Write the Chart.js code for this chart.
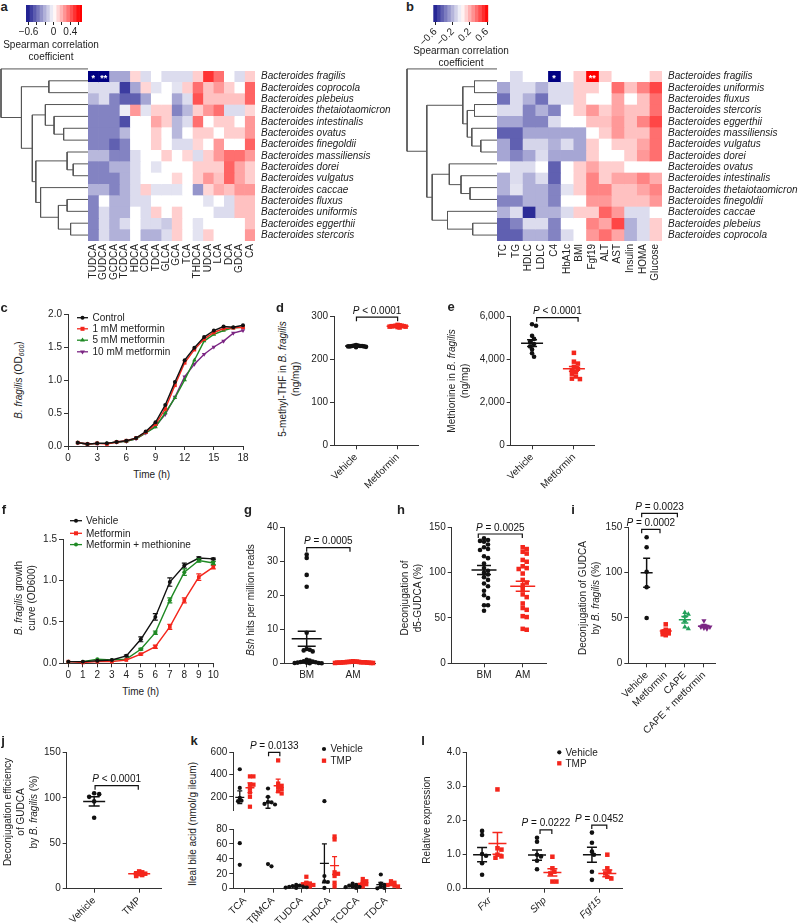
<!DOCTYPE html>
<html><head><meta charset="utf-8">
<script src="https://cdn.jsdelivr.net/npm/chart.js@4/dist/chart.umd.min.js"></script>
<style>
body{margin:0;background:#fff;}
#fig{position:relative;width:800px;height:924px;overflow:hidden;font-family:"Liberation Sans",Arial,sans-serif;color:#222;background:#fff;}
.box{position:absolute;}
.plab{position:absolute;font-weight:bold;font-size:13px;transform:translate(-50%,-50%);}
.yt{position:absolute;font-size:10px;line-height:13px;text-align:center;white-space:nowrap;transform:translate(-50%,-50%) rotate(-90deg);}
.ct{position:absolute;font-size:10px;line-height:12px;text-align:center;white-space:nowrap;transform:translate(-50%,-50%);}
sub{font-size:7px;vertical-align:-2px;}
</style></head>
<body><div id="fig"></div>
<script>
// ================= DATA =================
// ---- a: bile acids heatmap ----
const aRows=['Bacteroides fragilis','Bacteroides coprocola','Bacteroides plebeius','Bacteroides thetaiotaomicron','Bacteroides intestinalis','Bacteroides ovatus','Bacteroides finegoldii','Bacteroides massiliensis','Bacteroides dorei','Bacteroides vulgatus','Bacteroides caccae','Bacteroides fluxus','Bacteroides uniformis','Bacteroides eggerthii','Bacteroides stercoris'];
const aCols=['TUDCA','GUDCA','GCDCA','TCDCA','HDCA','CDCA','TDCA','GLCA','GCA','TCA','THDCA','UDCA','LCA','DCA','GDCA','CA'];
const aVals=[
[-0.75,-0.75,-0.25,-0.25,0.1,-0.1,0,-0.1,-0.1,-0.1,0.12,0.5,0.35,0,-0.1,0.12],
[-0.1,-0.1,-0.1,-0.55,-0.25,0.1,-0.08,0,-0.08,0.12,0.35,0.15,0.25,0.12,0,0.38],
[-0.2,-0.1,-0.35,-0.45,-0.45,-0.25,0,0,-0.25,-0.1,0.42,0.15,0.15,0.15,0.15,0.38],
[-0.35,-0.35,-0.35,-0.05,0.25,-0.08,0.12,0.12,-0.35,-0.2,0.12,0.25,0.35,-0.1,-0.1,0.1],
[-0.35,-0.35,-0.35,-0.5,0,0,0.22,0.12,-0.2,-0.1,0.35,0,0.12,0.12,0,0.25],
[-0.35,-0.35,-0.35,-0.2,0,0,0.12,0,-0.2,0,0.12,0.12,0,0.12,0.12,0.25],
[-0.35,-0.35,-0.45,-0.35,0,0,0.12,0,-0.1,-0.1,0.1,0,0.25,0,0,0.38],
[-0.2,-0.2,-0.35,-0.35,-0.1,0,0,0.12,0,0.1,-0.1,0.12,0.25,0.35,0.35,0.25],
[-0.35,-0.35,-0.22,-0.22,-0.1,0,-0.08,0,0,0,0.12,0.12,0.12,0.38,0.22,0.12],
[-0.35,-0.35,-0.35,-0.22,-0.1,0,0,0,0.1,0,0.12,0.25,0.15,0.38,0.22,0.12],
[-0.22,-0.22,-0.35,-0.22,-0.1,0.12,-0.08,-0.08,-0.08,0,-0.3,0.1,0.2,0.15,0.25,0.25],
[-0.35,0,-0.22,-0.22,-0.1,-0.1,0,0,0,0,0,-0.08,0,-0.1,0.15,0.15],
[-0.35,-0.1,-0.22,-0.22,0,-0.1,0.12,0,0.12,0,0,0,-0.1,-0.1,0.15,0.15],
[-0.35,-0.1,-0.22,-0.1,0,-0.1,-0.1,-0.15,0.12,0,-0.08,0,0,0,0,0.15],
[-0.35,-0.1,-0.22,-0.22,0,-0.22,-0.22,-0.1,0.12,0,-0.08,0.12,0,0,0,0.25]];
const aStars=[{r:0,c:0,t:'*'},{r:0,c:1,t:'**'}];
// dendrogram: [mergeHeight, left, right]; leaves = row index
const aTree=[1,0,[0.765,[0.45,1,2],[0.64,[0.49,3,[0.39,4,[0.28,5,6]]],[0.6,[0.24,7,[0.17,8,9]],[0.545,10,[0.34,[0.24,11,12],[0.2,13,14]]]]]]];
const aBarEdges=[-0.66,-0.58,-0.5,-0.42,-0.34,-0.26,-0.18,-0.1,-0.02,0.06,0.14,0.22,0.3,0.38,0.46,0.54,0.62,0.68];
const aBarTicks=[-0.6,-0.4,-0.2,0,0.2,0.4,0.6];
const aBarLabels=[-0.6,0,0.4];
// ---- b: clinical heatmap ----
const bRows=['Bacteroides fragilis','Bacteroides uniformis','Bacteroides fluxus','Bacteroides stercoris','Bacteroides eggerthii','Bacteroides massiliensis','Bacteroides vulgatus','Bacteroides dorei','Bacteroides ovatus','Bacteroides intestinalis','Bacteroides thetaiotaomicron','Bacteroides finegoldii','Bacteroides caccae','Bacteroides plebeius','Bacteroides coprocola'];
const bCols=['TC','TG','HDLC','LDLC','C4','HbA1c','BMI','Fgf19','ALT','AST','Insulin','HOMA','Glucose'];
const bVals=[
[0,-0.1,0,0,-0.75,0,0.12,0.65,0.12,0,0,0,0.12],
[-0.25,-0.1,-0.1,-0.22,-0.1,-0.1,0.12,0.12,0,0.35,0.15,0.3,0.45],
[-0.4,-0.1,-0.22,-0.4,-0.1,-0.1,0.12,0,0,0.22,0,0.15,0.35],
[-0.1,-0.1,-0.35,-0.22,-0.35,0,0.12,0.25,0.12,0.22,0.15,0.15,0.35],
[-0.25,-0.25,-0.35,-0.35,-0.1,0,0,0.15,0.15,0.25,0.15,0.3,0.45],
[-0.45,-0.45,-0.25,-0.25,-0.25,-0.25,-0.25,0,0.12,0.25,0.15,0.15,0.35],
[-0.25,-0.45,-0.12,-0.12,-0.22,-0.1,-0.25,0.12,0,0.12,0.12,0.22,0.35],
[-0.25,-0.35,-0.25,-0.1,-0.25,-0.25,-0.25,0.12,0,0,0.12,0.25,0.35],
[0,-0.1,-0.1,0,-0.45,0,0.12,0.22,0.12,0.12,0,0,0],
[-0.22,-0.1,-0.22,-0.1,-0.45,0,0.12,0.3,0.12,0.22,0.22,0.3,0.2],
[-0.22,-0.08,-0.22,-0.22,-0.35,-0.08,0.12,0.3,0.3,0.15,0.15,0.22,0.3],
[-0.35,-0.35,-0.22,-0.22,-0.35,0,0,0.25,0.25,0.15,0.15,0.15,0.25],
[-0.22,-0.1,-0.6,-0.22,-0.22,-0.1,0.12,0.12,0.38,0.25,-0.1,-0.1,0],
[-0.45,-0.35,-0.1,-0.1,-0.35,0,0,0.3,0.22,0.45,-0.22,-0.1,0.12],
[-0.45,-0.45,-0.22,-0.22,-0.35,-0.1,0,0.25,0.35,0.22,-0.22,-0.1,0.12]];
const bStars=[{r:0,c:4,t:'*'},{r:0,c:7,t:'**'}];
const bTree=[1,0,[0.78,[0.38,[0.25,1,2],[0.33,[0.25,3,4],[0.28,5,[0.18,6,7]]]],[0.72,[0.53,8,[0.4,9,[0.3,10,11]]],[0.55,12,[0.27,13,14]]]]];
const bBarEdges=[-0.65,-0.57,-0.49,-0.41,-0.33,-0.25,-0.17,-0.09,-0.01,0.07,0.15,0.23,0.31,0.39,0.47,0.55,0.63];
const bBarTicks=[-0.6,-0.2,0.2,0.6];
// ---- c: growth with metformin ----
const cTime=[1,2,3,4,5,6,7,8,9,10,11,12,13,14,15,16,17,18];
const cControl=[0.05,0.03,0.04,0.04,0.06,0.08,0.12,0.22,0.36,0.62,0.97,1.30,1.49,1.65,1.75,1.81,1.80,1.83];
const cMet1=[0.05,0.03,0.04,0.03,0.06,0.08,0.12,0.21,0.33,0.56,0.92,1.26,1.46,1.62,1.72,1.78,1.79,1.80];
const cMet5=[0.05,0.03,0.04,0.04,0.06,0.07,0.11,0.20,0.29,0.50,0.73,1.00,1.30,1.59,1.69,1.75,1.79,1.80];
const cMet10=[0.05,0.03,0.04,0.04,0.06,0.07,0.11,0.20,0.30,0.48,0.74,1.05,1.24,1.39,1.50,1.59,1.71,1.75];
const cXTicks=[0,3,6,9,12,15,18], cYTicks=[0,0.5,1,1.5,2];
// ---- d, e ----
const deCats=['Vehicle','Metformin'];
const dVehicle=[232,230,231,229,233,231,230,232,228,231,230];
const dMetformin=[278,276,277,279,275,277,276,278,274,277,280];
const dMean=[231,277], dSem=[1,1];
const eVehicle=[5630,5560,5090,4950,4815,4710,4600,4460,4280,4120];
const eMetformin=[4300,3890,3800,3650,3560,3500,3420,3330,3200,3100,3080];
const eMean=[4750,3560], eSem=[160,110];
// ---- f ----
const fTime=[0,1,2,3,4,5,6,7,8,9,10];
const fVehicle=[0.02,0.02,0.03,0.04,0.09,0.29,0.56,0.98,1.18,1.27,1.26];
const fVehicleErr=[0,0,0,0,0.01,0.03,0.04,0.05,0.03,0.015,0.01];
const fMetformin=[0.02,0.01,0.02,0.02,0.04,0.11,0.20,0.44,0.76,1.04,1.16];
const fMetforminErr=[0,0,0,0,0,0.01,0.02,0.03,0.03,0.04,0.02];
const fMetMet=[0.02,0.02,0.05,0.04,0.05,0.17,0.37,0.76,1.10,1.24,1.21];
const fMetMetErr=[0,0,0,0,0,0.01,0.02,0.03,0.04,0.02,0.02];
const fXTicks=[0,1,2,3,4,5,6,7,8,9,10], fYTicks=[0,0.5,1,1.5];
// ---- g, h ----
const ghCats=['BM','AM'];
const gBM=[32,31,26,22.5,9,4.2,4,3.8,3.5,1,0.8,0.6,0.5,0.4,0.3,0.2,0.2,0.1,0.1,0,0];
const gAM=[0.6,0.5,0.5,0.4,0.4,0.3,0.3,0.3,0.2,0.2,0.2,0.1,0.1,0.1,0.3,0.4,0.2,0.5,0.3,0.2];
const gMean=[7.2,0.3], gSem=[2.2,0.05];
const hBM=[138,136,135,134,131,128,126,125,118,116,110,105,102,100,98,95,92,88,85,80,75,72,64,64,58];
const hAM=[128,126,123,121,114,112,107,105,104,99,92,89,86,82,76,73,66,61,59,52,51,38,37];
const hMean=[103,85], hSem=[5,5.5];
// ---- i ----
const iCats=['Vehicle','Metformin','CAPE','CAPE + metformin'];
const iVehicle=[139,128,101,84,50];
const iMetformin=[43,37,36,35,34,33,32,31];
const iCAPE=[56,54,52,47,40,38];
const iCAPEMet=[47,42,41,40,40,39,38];
const iMean=[100,35.5,48,41], iSem=[16,1.5,3.5,1.3];
const hijTicks=[0,50,100,150];
// ---- j ----
const jCats=['Vehicle','TMP'];
const jVehicle=[105,104,101,96,78];
const jTMP=[19,18,17,16.5,16,15,14];
const jMean=[96,16.5], jSem=[5,0.8];
// ---- k ----
const kCats=['TCA','TβMCA','TUDCA','THDCA','TCDCA','TDCA'];
const kVehicle=[[450,280,190,165,160,61,32],[275,200,155,150,135,130,33,30],[5,4,3.5,3,2.5,2,1.5,1],[160,17,10,9,1],[7,5,4,3,2.5,2,1],[19,7,5,3,1,0.5]];
const kTMP=[[385,385,310,310,275,240,200,110],[530,320,300,290,270,250,230],[16,8,7,6,5,4,3],[70,66,22,20,17,8,3],[13,10,8,6,5,3],[10,8,6,5,4,3]];
const kVehMean=[195,146,3,34,3.5,5.5], kVehSem=[58,50,0.6,26,0.8,2.8];
const kTmpMean=[282,300,7,31,7,5.5], kTmpSem=[45,60,1.7,12,1.5,1];
const kBreak=80;
const kUpperTicks=[200,400,600], kLowerTicks=[0,20,40,60,80];
// ---- l ----
const lCats=['Fxr','Shp','Fgf15'];
const lVehicle=[[1.70,1.58,1.02,0.97,0.75,0.41],[1.5,1.38,1.0,0.95,0.82,0.57],[1.65,1.35,1.09,1.0,0.5,0.26]];
const lTMP=[[2.92,1.19,1.15,1.0,0.95,0.91],[0.94,0.6,0.5,0.45,0.21,0.21],[1.0,0.6,0.5,0.45,0.35,0.3]];
const lVehMean=[1.0,0.99,1.0], lVehSem=[0.21,0.15,0.22];
const lTmpMean=[1.33,0.48,0.45], lTmpSem=[0.32,0.11,0.1];
const lTicks=[0,1,2,3,4];

// ================= STYLE =================
const BLACK='#111', RED='#f4261c', GREEN='#1f8a24', PURPLE='#7b2583', CAPEG='#22a05a';
const FONT='"Liberation Sans", Arial, sans-serif';
Chart.defaults.font.family=FONT; Chart.defaults.font.size=10; Chart.defaults.color='#222';

const fig=document.getElementById('fig');
function place(o){
  const p=Object.assign({l:6,r:10,t:12,b:6},o.pad||{});
  const lw=o.lw||0,rw=o.rw||0,bh=o.bh||0;
  const left=Math.floor(o.L-lw-p.l), top=Math.floor(o.T-p.t);
  const right=Math.ceil(o.R+rw+p.r), bottom=Math.ceil(o.B+bh+p.b);
  const w=right-left,h=bottom-top;
  const d=document.createElement('div');d.className='box';
  d.style.cssText=`left:${left}px;top:${top}px;width:${w}px;height:${h}px`;
  const cv=document.createElement('canvas');cv.width=w;cv.height=h;cv.style.width=w+'px';cv.style.height=h+'px';
  d.appendChild(cv);fig.appendChild(d);
  return {cv,padding:{left:o.L-lw-left,top:o.T-top,right:right-(o.R+rw),bottom:bottom-(o.B+bh)}};
}
function base(m){return {responsive:false,animation:false,devicePixelRatio:1,events:[],layout:{padding:m.padding}};}
function plug(extra){return Object.assign({legend:{display:false},tooltip:{enabled:false}},extra||{});}
function html(cls,h,x,y){const d=document.createElement('div');d.className=cls;d.innerHTML=h;d.style.left=x+'px';d.style.top=y+'px';fig.appendChild(d);}
function corrColor(v){
  if(v<0){const t=Math.min(1,-v/0.72);return `rgb(${Math.round(255-255*t)},${Math.round(255-255*t)},${Math.round(255-125*t)})`;}
  const t=Math.min(1,v/0.62);return `rgb(255,${Math.round(255-255*t)},${Math.round(255-255*t)})`;
}
function signed(v){return Math.abs(v)<1e-9?'0':(v<0?'\u2212':'')+Math.abs(v).toFixed(1);}
function marker(ctx,style,x,y,r,rot){
  ctx.beginPath();
  if(style==='rect'){const s=r*0.72;ctx.rect(x-s,y-s,2*s,2*s);}
  else if(style==='triangle'){const k=rot?-1:1;ctx.moveTo(x,y-k*r);ctx.lineTo(x+r*0.87,y+k*r*0.5);ctx.lineTo(x-r*0.87,y+k*r*0.5);ctx.closePath();}
  else ctx.arc(x,y,r,0,Math.PI*2);
  ctx.fill();
}
function drawP(ctx,text,cx,yb){
  const rest=text.slice(1);
  ctx.font='italic 10px '+FONT;const w1=ctx.measureText('P').width;
  ctx.font='10px '+FONT;const w2=ctx.measureText(rest).width;
  const x0=cx-(w1+w2)/2;ctx.fillStyle='#111';ctx.textAlign='left';ctx.textBaseline='alphabetic';
  ctx.font='italic 10px '+FONT;ctx.fillText('P',x0,yb);
  ctx.font='10px '+FONT;ctx.fillText(rest,x0+w1,yb);
}
// ---- plugins ----
Chart.register({id:'stars',afterDatasetsDraw(chart,a,o){if(!o||!o.items)return;const {ctx}=chart,x=chart.scales.x,y=chart.scales.y;
  ctx.save();ctx.fillStyle='#fff';ctx.font='bold 9px '+FONT;ctx.textAlign='center';ctx.textBaseline='middle';
  for(const s of o.items)ctx.fillText(s.t,x.getPixelForValue(s.c+0.5),y.getPixelForValue(s.r)+2);ctx.restore();}});
Chart.register({id:'errs',afterDatasetsDraw(chart){const y=chart.scales.y,ctx=chart.ctx;
  chart.data.datasets.forEach((d,di)=>{if(!d.errors)return;const meta=chart.getDatasetMeta(di);ctx.save();ctx.strokeStyle=d.borderColor;ctx.lineWidth=1.2;
    meta.data.forEach((pt,i)=>{const e=d.errors[i];if(!e)return;const v=d.data[i].y;const p1=y.getPixelForValue(v-e),p2=y.getPixelForValue(v+e);
      ctx.beginPath();ctx.moveTo(pt.x,p1);ctx.lineTo(pt.x,p2);ctx.moveTo(pt.x-2.5,p1);ctx.lineTo(pt.x+2.5,p1);ctx.moveTo(pt.x-2.5,p2);ctx.lineTo(pt.x+2.5,p2);ctx.stroke();});
    ctx.restore();});}});
Chart.register({id:'meanSem',afterDatasetsDraw(chart,a,o){if(!o||!o.groups)return;const {ctx}=chart,x=chart.scales.x,y=chart.scales.y;
  ctx.save();
  for(const g of o.groups){if(g.mean==null)continue;const px=x.getPixelForValue(g.x),pm=y.getPixelForValue(g.mean),p1=y.getPixelForValue(g.mean-g.sem),p2=y.getPixelForValue(g.mean+g.sem);
    ctx.strokeStyle=g.color;ctx.lineWidth=g.lw||1.5;ctx.beginPath();
    ctx.moveTo(px-g.meanW/2,pm);ctx.lineTo(px+g.meanW/2,pm);ctx.moveTo(px,p1);ctx.lineTo(px,p2);
    ctx.moveTo(px-g.capW/2,p1);ctx.lineTo(px+g.capW/2,p1);ctx.moveTo(px-g.capW/2,p2);ctx.lineTo(px+g.capW/2,p2);ctx.stroke();}
  ctx.restore();}});
Chart.register({id:'brackets',afterDraw(chart,a,o){if(!o||!o.items)return;const {ctx}=chart,x=chart.scales.x,y=chart.scales.y;
  ctx.save();ctx.strokeStyle='#111';ctx.lineWidth=1.2;
  for(const b of o.items){const x1=x.getPixelForValue(b.x1),x2=x.getPixelForValue(b.x2),yp=y.getPixelForValue(b.y),d=b.drop==null?4:b.drop;
    ctx.beginPath();ctx.moveTo(x1,yp+d);ctx.lineTo(x1,yp);ctx.lineTo(x2,yp);ctx.lineTo(x2,yp+d);ctx.stroke();drawP(ctx,b.text,(x1+x2)/2,yp-3.5);}
  ctx.restore();}});
Chart.register({id:'miniLegend',afterDraw(chart,a,o){if(!o||!o.items)return;const ctx=chart.ctx;const ox=chart.canvas.parentNode.offsetLeft,oy=chart.canvas.parentNode.offsetTop;
  ctx.save();o.items.forEach((it,i)=>{const y=o.y[i]-oy;
    if(o.lineX){ctx.strokeStyle=it.color;ctx.lineWidth=1.3;ctx.beginPath();ctx.moveTo(o.lineX[0]-ox,y);ctx.lineTo(o.lineX[1]-ox,y);ctx.stroke();}
    ctx.fillStyle=it.color;marker(ctx,it.style,o.mx-ox,y,it.r||2.3,it.rot);
    ctx.fillStyle='#222';ctx.font='10px '+FONT;ctx.textAlign='left';ctx.textBaseline='middle';ctx.fillText(it.text,o.tx-ox,y+0.5);});
  ctx.restore();}});

// ---- builders ----
function yAxis(o){return {type:'linear',min:o.ymin,max:o.ymax,afterFit:s=>{s.width=o.box.lw;},
  afterBuildTicks:s=>{s.ticks=o.yticks.map(v=>({value:v}));},
  ticks:{autoSkip:false,padding:2,color:'#222',font:{size:10},callback:o.yfmt||(v=>v.toLocaleString('en-US'))},
  grid:{drawOnChartArea:false,tickLength:4,color:'#333',lineWidth:1},border:{display:true,color:'#333',width:1}};}
function xCat(o){return {type:'linear',min:o.xmin,max:o.xmax,afterFit:s=>{s.height=o.box.bh;},
  afterBuildTicks:s=>{s.ticks=o.cats.map((c,i)=>({value:i}));},
  ticks:{autoSkip:false,padding:2,minRotation:o.rot||0,maxRotation:o.rot||0,color:'#222',font:{size:10,style:o.italic?'italic':'normal'},callback:v=>o.cats[Math.round(v)]},
  grid:{drawOnChartArea:false,tickLength:4,color:'#333'},border:{display:true,color:'#333',width:1}};}
function swarm(vals,ypx,diam,pxPerX){
  const order=vals.map((v,i)=>i).sort((a,b)=>vals[b]-vals[a]);
  const off=new Array(vals.length).fill(0),done=[];const cand=[0];
  for(let k=1;k<60;k++)cand.push(k*diam*0.5,-k*diam*0.5);
  for(const i of order){const yi=ypx(vals[i]);
    for(const c of cand){if(done.every(j=>{const dx=c-off[j],dy=yi-ypx(vals[j]);return dx*dx+dy*dy>=diam*diam*0.8;})){off[i]=c;break;}}
    done.push(i);}
  return off.map(v=>v/pxPerX);
}
function dotPanel(o){
  const m=place(o.box);const b=o.box,plotH=b.B-b.T,pxPerX=(b.R-b.L)/(o.xmax-o.xmin);
  const ypx=v=>(v-o.ymin)/(o.ymax-o.ymin)*plotH;
  const datasets=o.groups.map(g=>{const off=swarm(g.vals,ypx,g.diam||4,pxPerX);
    return {data:g.vals.map((v,i)=>({x:g.x+off[i],y:v})),pointStyle:g.style,pointRotation:g.rot||0,pointRadius:g.r,pointHoverRadius:g.r,
      pointBackgroundColor:g.color,pointBorderColor:g.color,pointBorderWidth:0,showLine:false,clip:false};});
  new Chart(m.cv,{type:'scatter',data:{datasets},options:Object.assign(base(m),{
    scales:{x:o.noX?{type:'linear',display:false,min:o.xmin,max:o.xmax}:xCat(o),y:yAxis(o)},
    plugins:plug({meanSem:{groups:o.groups},brackets:{items:o.brackets},miniLegend:o.legend||{}})})});
}
function linePanel(o){
  const m=place(o.box);
  const datasets=o.series.map(s=>({data:o.x.map((t,i)=>({x:t,y:s.y[i]})),showLine:true,borderColor:s.color,borderWidth:1.4,
    pointStyle:s.style,pointRotation:s.rot||0,pointRadius:s.r||2.2,pointHoverRadius:s.r||2.2,pointBackgroundColor:s.color,pointBorderWidth:0,errors:s.err,clip:false}));
  new Chart(m.cv,{type:'scatter',data:{datasets},options:Object.assign(base(m),{
    scales:{x:{type:'linear',min:o.xmin,max:o.xmax,afterFit:s=>{s.height=o.box.bh;},afterBuildTicks:s=>{s.ticks=o.xticks.map(v=>({value:v}));},
        ticks:{autoSkip:false,padding:2,color:'#222',maxRotation:0,minRotation:0},grid:{drawOnChartArea:false,tickLength:4,color:'#333'},border:{display:true,color:'#333'}},
      y:yAxis(o)},
    plugins:plug({miniLegend:o.legend})})});
}
function heatmap(o){
  const m=place(o.box);
  const ds=o.cols.map((c,ci)=>({data:o.rows.map(()=>[ci,ci+1]),backgroundColor:o.rows.map((r,ri)=>corrColor(o.vals[ri][ci])),borderWidth:0,barPercentage:1,categoryPercentage:1,grouped:false}));
  new Chart(m.cv,{type:'bar',data:{labels:o.rows,datasets:ds},options:Object.assign(base(m),{indexAxis:'y',
    scales:{x:{type:'linear',min:0,max:o.cols.length,afterFit:s=>{s.height=o.box.bh;},afterBuildTicks:s=>{s.ticks=o.cols.map((c,i)=>({value:i+0.5}));},
        ticks:{autoSkip:false,minRotation:90,maxRotation:90,padding:3,color:'#222',callback:v=>o.cols[Math.round(v-0.5)]},grid:{display:false,drawTicks:false,tickLength:0},border:{display:false}},
      y:{position:'right',afterFit:s=>{s.width=o.box.rw;},ticks:{autoSkip:false,padding:6,color:'#222',font:{size:10,style:'italic'}},grid:{display:false,drawTicks:false,tickLength:0},border:{display:false}}},
    plugins:plug({stars:{items:o.stars}})})});
}
function dendroSegs(tree){const segs=[];
  function rec(n){if(typeof n==='number')return {h:0,y:n};const A=rec(n[1]),B=rec(n[2]),h=n[0];
    segs.push([{x:A.h,y:A.y},{x:h,y:A.y}]);segs.push([{x:B.h,y:B.y},{x:h,y:B.y}]);segs.push([{x:h,y:A.y},{x:h,y:B.y}]);return {h,y:(A.y+B.y)/2};}
  rec(tree);return segs;}
function dendro(o){
  const m=place(o.box);
  const ds=dendroSegs(o.tree).map(s=>({data:s,showLine:true,borderColor:'#555',borderWidth:1,pointRadius:0,clip:false}));
  new Chart(m.cv,{type:'scatter',data:{datasets:ds},options:Object.assign(base(m),{
    scales:{x:{type:'linear',display:false,min:0,max:1,reverse:true},y:{type:'linear',display:false,min:-0.5,max:o.n-0.5,reverse:true}},plugins:plug()})});
}
function colorbar(o){
  const m=place(o.box);const ds=[];
  for(let i=0;i<o.edges.length-1;i++){const lo=o.edges[i],hi=o.edges[i+1];ds.push({data:[[lo,hi]],backgroundColor:corrColor((lo+hi)/2),borderWidth:0,barPercentage:1,categoryPercentage:1,grouped:false});}
  new Chart(m.cv,{type:'bar',data:{labels:[''],datasets:ds},options:Object.assign(base(m),{indexAxis:'y',
    scales:{y:{display:false},x:{type:'linear',min:o.edges[0],max:o.edges[o.edges.length-1],afterFit:s=>{s.height=o.box.bh;},
      afterBuildTicks:s=>{s.ticks=o.ticks.map(v=>({value:v}));},
      ticks:{autoSkip:false,padding:1,minRotation:o.rot||0,maxRotation:o.rot||0,color:'#222',callback:v=>o.labels.some(l=>Math.abs(l-v)<1e-6)?signed(v):''},
      grid:{drawOnChartArea:false,tickLength:3,color:'#222'},border:{display:false}}},plugins:plug()})});
}

// ================= BUILD =================
// a
colorbar({box:{L:26,T:5,R:82,B:22,bh:16,pad:{l:12,r:14,t:2,b:2}},edges:aBarEdges,ticks:aBarTicks,labels:aBarLabels});
html('ct','Spearman correlation<br>coefficient',51,51);
dendro({box:{L:1,T:63,R:88,B:241,pad:{l:1,r:0,t:2,b:2}},tree:aTree,n:aRows.length});
heatmap({box:{L:88,T:63,R:255,B:241,rw:142,bh:50,pad:{l:0,r:2,t:4,b:2}},rows:aRows,cols:aCols,vals:aVals,stars:aStars});
// b
colorbar({box:{L:433.3,T:5,R:488.3,B:22,bh:26,pad:{l:14,r:12,t:2,b:2}},edges:bBarEdges,ticks:bBarTicks,labels:bBarTicks,rot:45});
html('ct','Spearman correlation<br>coefficient',461,56.5);
dendro({box:{L:407,T:63,R:497,B:241,pad:{l:1,r:0,t:2,b:2}},tree:bTree,n:bRows.length});
heatmap({box:{L:497,T:63,R:662,B:241,rw:138,bh:50,pad:{l:0,r:0,t:4,b:2}},rows:bRows,cols:bCols,vals:bVals,stars:bStars});
// c
linePanel({box:{L:68,T:314,R:243,B:446,lw:26,bh:16},x:cTime,xmin:0,xmax:18,xticks:cXTicks,ymin:0,ymax:2,yticks:cYTicks,yfmt:v=>v.toFixed(1),
  series:[{y:cControl,color:BLACK,style:'circle',r:2},{y:cMet1,color:RED,style:'rect',r:2.6},{y:cMet5,color:GREEN,style:'triangle',r:2.6},{y:cMet10,color:PURPLE,style:'triangle',rot:180,r:2.6}],
  legend:{lineX:[77,88],mx:82.5,tx:92.5,y:[317.7,328.8,340.2,351.8],items:[{text:'Control',color:BLACK,style:'circle',r:2},{text:'1 mM metformin',color:RED,style:'rect',r:2.8},{text:'5 mM metformin',color:GREEN,style:'triangle',r:2.8},{text:'10 mM metformin',color:PURPLE,style:'triangle',rot:1,r:2.8}]}});
// d
dotPanel({box:{L:334,T:316.3,R:418,B:445.3,lw:26,bh:44,pad:{t:18}},xmin:-0.53,xmax:1.49,cats:deCats,rot:45,ymin:0,ymax:300,yticks:[0,100,200,300],
  groups:[{x:0,vals:dVehicle,color:BLACK,style:'circle',r:2.3,diam:2,mean:dMean[0],sem:dSem[0],meanW:22,capW:10},{x:1,vals:dMetformin,color:RED,style:'rect',r:3.2,diam:2,mean:dMean[1],sem:dSem[1],meanW:22,capW:10}],
  brackets:[{x1:0.01,x2:1,y:298,text:'P < 0.0001'}]});
// e
dotPanel({box:{L:510.7,T:316.3,R:594,B:445.3,lw:34,bh:44,pad:{t:18}},xmin:-0.51,xmax:1.48,cats:deCats,rot:45,ymin:0,ymax:6000,yticks:[0,2000,4000,6000],
  groups:[{x:0,vals:eVehicle,color:BLACK,style:'circle',r:2.3,mean:eMean[0],sem:eSem[0],meanW:22,capW:10},{x:1,vals:eMetformin,color:RED,style:'rect',r:3.2,mean:eMean[1],sem:eSem[1],meanW:22,capW:10}],
  brackets:[{x1:0.11,x2:1.1,y:5935,text:'P < 0.0001'}]});
// f
linePanel({box:{L:63,T:539,R:213.3,B:663.3,lw:26,bh:16,pad:{t:28}},x:fTime,xmin:-0.37,xmax:10,xticks:fXTicks,ymin:0,ymax:1.5,yticks:fYTicks,yfmt:v=>v.toFixed(1),
  series:[{y:fVehicle,err:fVehicleErr,color:BLACK,style:'circle',r:2},{y:fMetformin,err:fMetforminErr,color:RED,style:'rect',r:2.6},{y:fMetMet,err:fMetMetErr,color:GREEN,style:'circle',r:2}],
  legend:{lineX:[70,82],mx:76,tx:86,y:[520.7,533.3,544.6],items:[{text:'Vehicle',color:BLACK,style:'circle',r:2},{text:'Metformin',color:RED,style:'rect',r:2.8},{text:'Metformin + methionine',color:GREEN,style:'circle',r:2}]}});
// g
dotPanel({box:{L:284,T:527.3,R:375,B:663.3,lw:22,bh:16},xmin:-0.49,xmax:1.475,cats:ghCats,ymin:0,ymax:40,yticks:[0,10,20,30,40],
  groups:[{x:0,vals:gBM,color:BLACK,style:'circle',r:2.3,diam:3,mean:gMean[0],sem:gSem[0],meanW:30,capW:18},{x:1,vals:gAM,color:RED,style:'rect',r:3.2,diam:2,mean:gMean[1],sem:gSem[1],meanW:26,capW:14}],
  brackets:[{x1:0,x2:0.935,y:34,text:'P = 0.0005'}]});
// h
dotPanel({box:{L:451.7,T:527.3,R:546.7,B:663.3,lw:26,bh:16,pad:{t:16}},xmin:-0.835,xmax:1.62,cats:ghCats,ymin:0,ymax:150,yticks:hijTicks,
  groups:[{x:0,vals:hBM,color:BLACK,style:'circle',r:2.3,mean:hMean[0],sem:hSem[0],meanW:25,capW:14},{x:1,vals:hAM,color:RED,style:'rect',r:3.2,mean:hMean[1],sem:hSem[1],meanW:25,capW:14}],
  brackets:[{x1:-0.148,x2:0.99,y:142.6,text:'P = 0.0025'}]});
// i
dotPanel({box:{L:628.3,T:527.3,R:715,B:663.3,lw:26,bh:80,pad:{t:30,b:2}},xmin:-0.96,xmax:3.58,cats:iCats,rot:45,ymin:0,ymax:150,yticks:hijTicks,
  groups:[{x:0,vals:iVehicle,color:BLACK,style:'circle',r:2.3,mean:iMean[0],sem:iSem[0],meanW:12,capW:7},
    {x:1,vals:iMetformin,color:RED,style:'rect',r:3.2,diam:3,mean:iMean[1],sem:iSem[1],meanW:12,capW:7},
    {x:2,vals:iCAPE,color:CAPEG,style:'triangle',r:3,diam:3.5,mean:iMean[2],sem:iSem[2],meanW:12,capW:7},
    {x:3,vals:iCAPEMet,color:PURPLE,style:'triangle',rot:180,r:3,diam:3,mean:iMean[3],sem:iSem[3],meanW:12,capW:7}],
  brackets:[{x1:-0.26,x2:0.7,y:147.8,text:'P = 0.0002'},{x1:-0.26,x2:1.61,y:165.4,text:'P = 0.0023'}]});
// j
dotPanel({box:{L:66.7,T:752.3,R:161.7,B:888.7,lw:26,bh:33,pad:{b:1}},xmin:-0.61,xmax:1.5,cats:jCats,rot:45,ymin:0,ymax:150,yticks:hijTicks,
  groups:[{x:0,vals:jVehicle,color:BLACK,style:'circle',r:2.3,diam:5,mean:jMean[0],sem:jSem[0],meanW:22,capW:11},{x:1,vals:jTMP,color:RED,style:'rect',r:3.2,diam:3,mean:jMean[1],sem:jSem[1],meanW:22,capW:11}],
  brackets:[{x1:0.02,x2:0.98,y:113.3,text:'P < 0.0001'}]});
// k (broken axis: upper segment above kBreak, lower segment 0..kBreak)
const kGroups=[];
kCats.forEach((c,i)=>{
  kGroups.push({x:i-0.18,vals:kVehicle[i],color:BLACK,style:'circle',r:2.1,diam:3.5,mean:kVehMean[i],sem:kVehSem[i],meanW:9,capW:5,lw:1.3});
  kGroups.push({x:i+0.18,vals:kTMP[i],color:RED,style:'rect',r:3,diam:3.5,mean:kTmpMean[i],sem:kTmpSem[i],meanW:9,capW:5,lw:1.3});
});
function kPart(upper){return kGroups.map(g=>Object.assign({},g,{vals:g.vals.filter(v=>upper?v>kBreak:v<=kBreak),mean:(upper?g.mean>kBreak:g.mean<=kBreak)?g.mean:null}));}
dotPanel({box:{L:233.3,T:752.7,R:401.7,B:816.4,lw:26,pad:{t:14,b:1}},noX:true,xmin:-0.41,xmax:5.56,cats:kCats,ymin:kBreak,ymax:600,yticks:kUpperTicks,
  groups:kPart(true),brackets:[{x1:0.84,x2:1.24,y:603,text:'P = 0.0133'}],
  legend:{mx:324,tx:330.5,y:[749,760.7],items:[{text:'Vehicle',color:BLACK,style:'circle',r:2.1},{text:'TMP',color:RED,style:'rect',r:3}]}});
dotPanel({box:{L:233.3,T:825.7,R:401.7,B:888.7,lw:26,bh:34,pad:{t:4,b:1}},xmin:-0.41,xmax:5.56,cats:kCats,rot:45,ymin:0,ymax:kBreak,yticks:kLowerTicks,
  groups:kPart(false)});
// l
const lGroups=[];
lCats.forEach((c,i)=>{
  lGroups.push({x:i-0.14,vals:lVehicle[i],color:BLACK,style:'circle',r:2.3,mean:lVehMean[i],sem:lVehSem[i],meanW:18,capW:10});
  lGroups.push({x:i+0.14,vals:lTMP[i],color:RED,style:'rect',r:3.2,mean:lTmpMean[i],sem:lTmpSem[i],meanW:18,capW:10});
});
dotPanel({box:{L:466.7,T:752.7,R:622.7,B:888.7,lw:26,bh:34,pad:{b:1}},xmin:-0.42,xmax:2.42,cats:lCats,rot:45,italic:true,ymin:0,ymax:4,yticks:lTicks,yfmt:v=>v.toFixed(1),
  groups:lGroups,brackets:[{x1:0.915,x2:1.13,y:1.73,text:'P = 0.0222'},{x1:1.857,x2:2.13,y:1.87,text:'P = 0.0452'}],
  legend:{mx:559.3,tx:565.5,y:[752.3,763.3],items:[{text:'Vehicle',color:BLACK,style:'circle',r:2.1},{text:'TMP',color:RED,style:'rect',r:3}]}});

// ---- axis titles & panel letters (real text) ----
html('yt','<i>B. fragilis</i> (OD<sub><i>600</i></sub>)',20,380);
html('ct','Time (h)',151.7,474.5);
html('yt','5-methyl-THF in <i>B. fragilis</i><br>(ng/mg)',289,379);
html('yt','Methionine in <i>B. fragilis</i><br>(ng/mg)',458,381);
html('yt','<i>B. fragilis</i> growth<br>curve (OD600)',25,598);
html('ct','Time (h)',140.7,691.7);
html('yt','<i>Bsh</i> hits per million reads',250,600);
html('yt','Deconjugation of<br>d5-GUDCA (%)',411,598);
html('yt','Deconjugation of GUDCA<br>by <i>B. fragilis</i> (%)',589,598);
html('yt','Deconjugation efficiency<br>of GUDCA<br>by <i>B. fragilis</i> (%)',19.5,812);
html('yt','Ileal bile acid (nmol/g ileum)',192,824);
html('yt','Relative expression',426,820);
[['a',4,6],['b',410,6],['c',4,307],['d',280,307],['e',451,306],['f',4,509],['g',248,509],['h',401,509],['i',573,509],['j',3,740],['k',194,740],['l',423,740]]
  .forEach(([t,x,y])=>html('plab',t,x,y));
</script></body></html>
